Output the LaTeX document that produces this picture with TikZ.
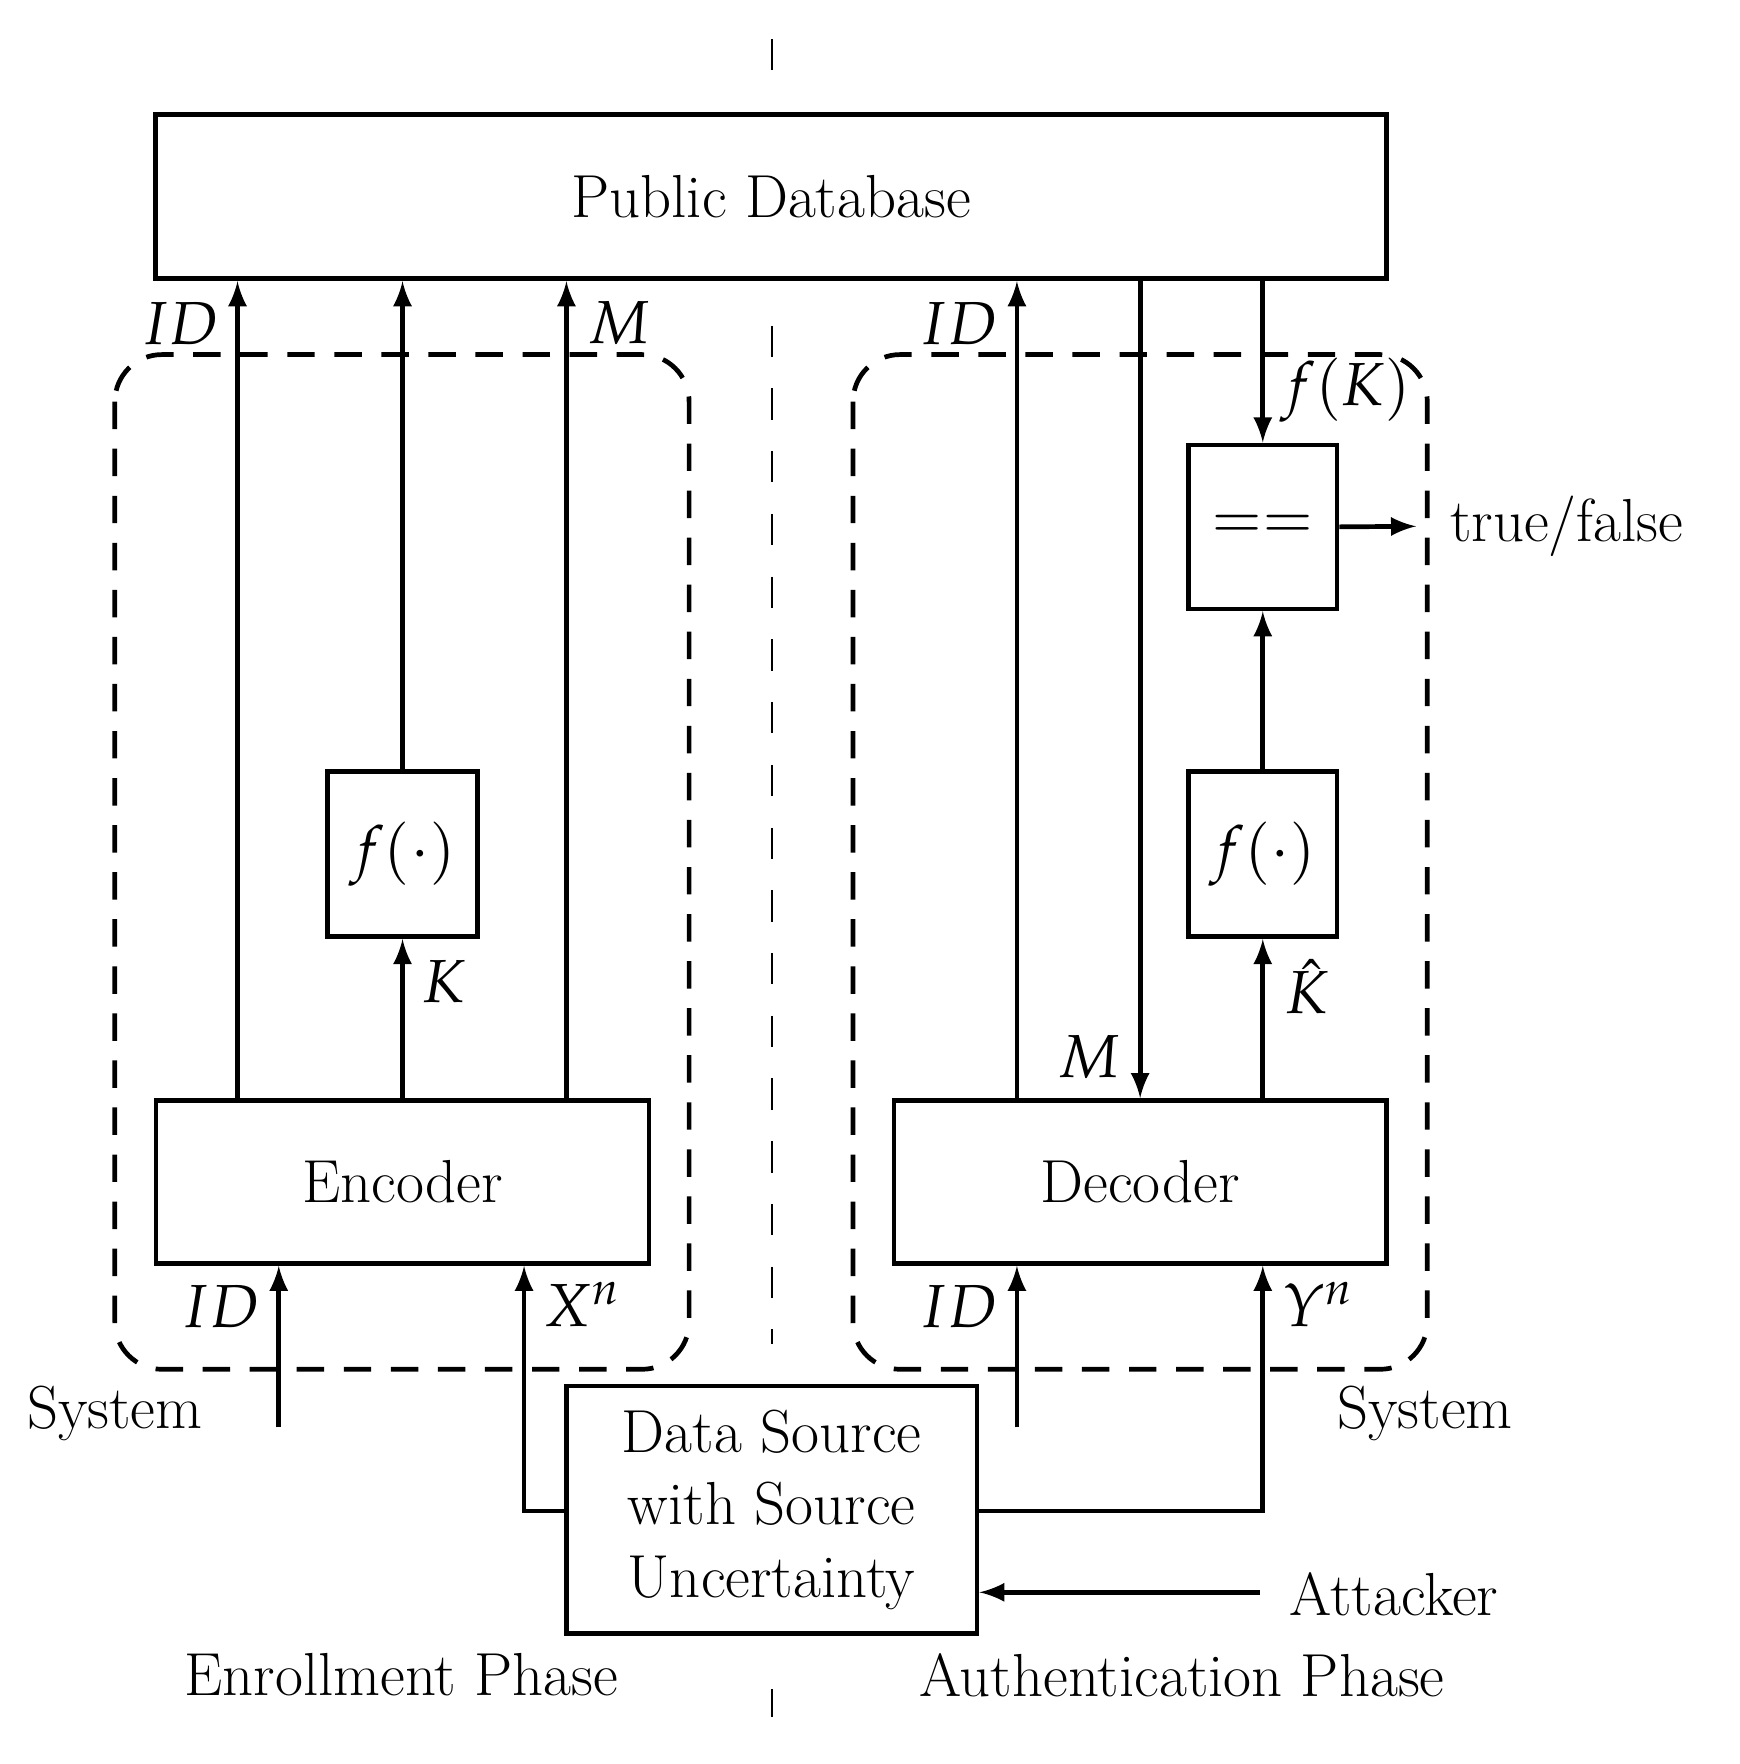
\documentclass[tikz,border=0pt]{standalone}
\usepackage{mathpazo}
\usepackage{tikz}
\usetikzlibrary{positioning}
\tikzset{>=latex}
\tikzset{
  blk/.style={draw,line width=1.2pt,inner sep=0pt},
  flow/.style={->,line width=1.2pt},
  sysbox/.style={draw,line width=1.2pt,rounded corners=12pt,dash pattern=on 7pt off 5pt},
  lbl/.style={inner sep=0pt}
}

\begin{document}
\begin{tikzpicture}[x=0.01cm,y=-0.01cm,font=\fontsize{15.5}{18.5}\selectfont]
        \useasboundingbox (0,0) rectangle (1560,1582);

        % phase separator
        \draw[line width=0.5pt,dash pattern=on 8pt off 8pt] (692,35) -- (692,68);
        \draw[line width=0.5pt,dash pattern=on 8pt off 8pt] (692,292) -- (692,1205);
        \draw[line width=0.5pt,dash pattern=on 8pt off 8pt] (692,1515) -- (692,1540);

        % system boxes
        \draw[sysbox] (103,318) rectangle (618,1228);
        \draw[sysbox] (765,318) rectangle (1280,1228);

        % blocks
        \node[blk,minimum width=11.03cm,minimum height=1.47cm] (db) at (691.5,176.5) {Public Database};
        \node[blk,minimum width=4.42cm,minimum height=1.46cm] (enc) at (361,1060) {Encoder};
        \node[blk,minimum width=1.34cm,minimum height=1.48cm] (fl) at (361,766) {$f(\cdot)$};
        \node[blk,minimum width=4.41cm,minimum height=1.46cm] (dec) at (1022.5,1060) {Decoder};
        \node[blk,minimum width=1.33cm,minimum height=1.47cm] (eq) at (1132.5,472.5) {$==$};
        \node[blk,minimum width=1.33cm,minimum height=1.48cm] (fr) at (1132.5,766) {$f(\cdot)$};
        \node[blk,minimum width=3.68cm,minimum height=2.22cm,align=center] (src) at (692,1354)
            {Data Source\\with Source\\Uncertainty};

        % free ends
        \coordinate (idl) at (250,1280);
        \coordinate (idr) at (912,1280);
        \coordinate (att) at (1130,1428);
        \coordinate (tf) at (1270,472);

        % enrollment
        \draw[flow] (enc.north -| 213,0) -- (db.south -| 213,0);
        \draw[flow] (enc.north) -- (fl.south);
        \draw[flow] (fl.north) -- (db.south -| fl.north);
        \draw[flow] (enc.north -| 508,0) -- (db.south -| 508,0);
        \draw[flow] (idl) -- (enc.south -| idl);
        \draw[flow] (src.west |- 0,1355) -| (enc.south -| 470,0);

        % authentication
        \draw[flow] (dec.north -| 912,0) -- (db.south -| 912,0);
        \draw[flow] (db.south -| dec.north) -- (dec.north);
        \draw[flow] (db.south -| eq.north) -- (eq.north);
        \draw[flow] (dec.north -| fr.south) -- (fr.south);
        \draw[flow] (fr.north) -- (eq.south);
        \draw[flow] (eq.east) -- (tf);
        \draw[flow] (idr) -- (dec.south -| idr);
        \draw[flow] (src.east |- 0,1355) -| (dec.south -| fr.south);
        \draw[flow] (att) -- (src.east |- att);

        % labels
        \node[lbl] (lid1) at (162,290) {$ID$};
        \node[lbl] (lm1) at (555,290) {$M$};
        \node[lbl] (lk) at (398,880) {$K$};
        \node[lbl] (lid2) at (198,1172) {$ID$};
        \node[lbl] (lx) at (522,1170) {$X^n$};
        \node[lbl] (lsys1) at (103,1268) {System};
        \node[lbl] (lid3) at (860,290) {$ID$};
        \node[lbl] (lfk) at (1207,350) {$f(K)$};
        \node[lbl] (ltf) at (1405,472) {true/false};
        \node[lbl] (lkh) at (1172,885) {$\hat{K}$};
        \node[lbl] (lm2) at (977,948) {$M$};
        \node[lbl] (lid4) at (860,1172) {$ID$};
        \node[lbl] (ly) at (1182,1170) {$Y^n$};
        \node[lbl] (lsys2) at (1278,1268) {System};
        \node[lbl] (latt) at (1250,1430) {Attacker};
        \node[lbl] (lenr) at (360,1502) {Enrollment Phase};
        \node[lbl] (laut) at (1060,1502) {Authentication Phase};
    \end{tikzpicture}
\end{document}
